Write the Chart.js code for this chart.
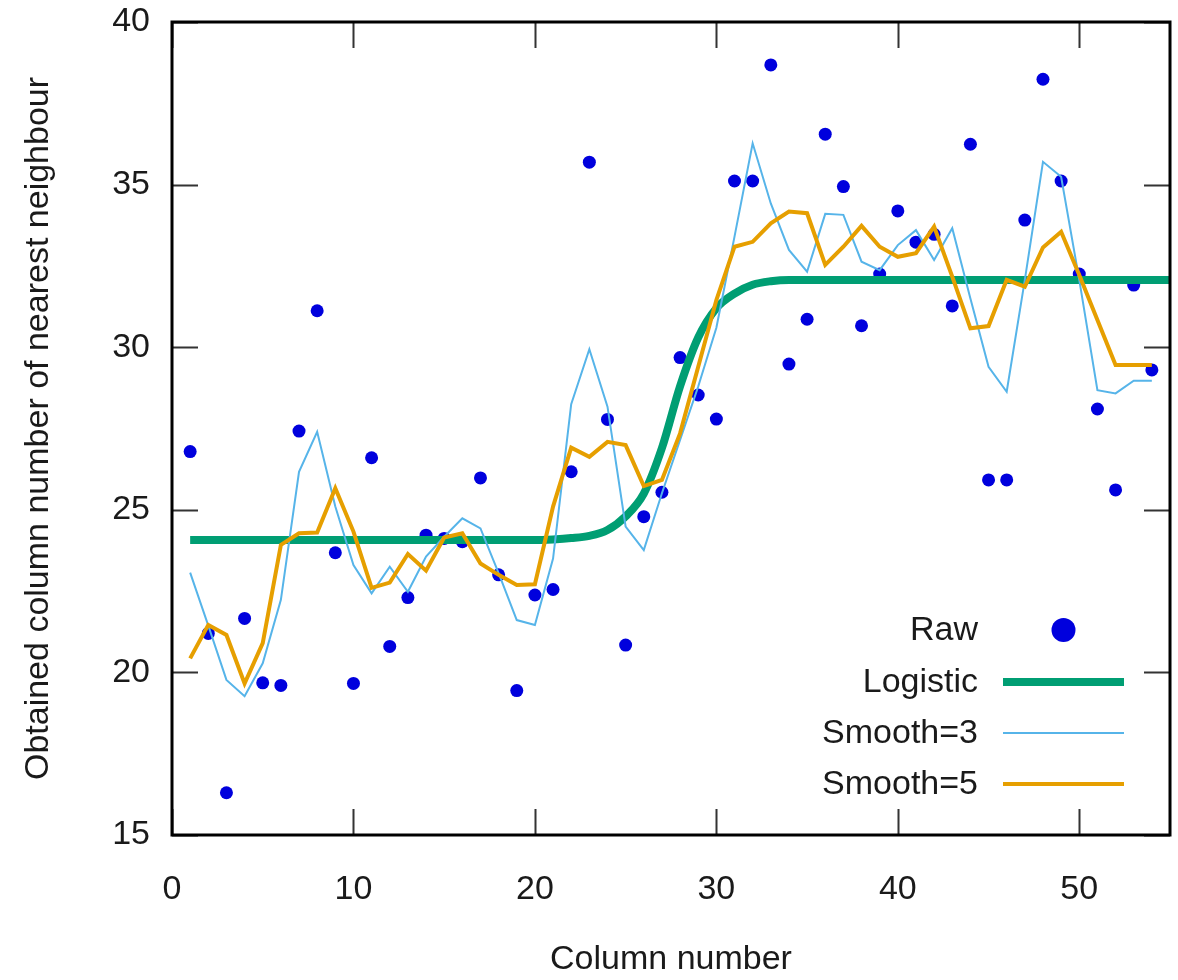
<!DOCTYPE html>
<html>
<head>
<meta charset="utf-8">
<script src="https://cdn.jsdelivr.net/npm/chart.js@4"></script>
<style>
  html, body { margin: 0; padding: 0; background: #fff; }
  #wrap { width: 1178px; height: 980px; }
</style>
</head>
<body>
<div id="wrap"><canvas id="nnChart" width="1178" height="980"></canvas></div>
<script>
// column numbers 1..54
const columns = [1, 2, 3, 4, 5, 6, 7, 8, 9, 10, 11, 12, 13, 14, 15, 16, 17, 18,
  19, 20, 21, 22, 23, 24, 25, 26, 27, 28, 29, 30, 31, 32, 33, 34, 35, 36, 37,
  38, 39, 40, 41, 42, 43, 44, 45, 46, 47, 48, 49, 50, 51, 52, 53, 54];

const raw = [26.79, 21.2, 16.3, 21.66, 19.68, 19.6, 27.42, 31.12, 23.68, 19.66,
  26.6, 20.8, 22.3, 24.22, 24.12, 24.02, 25.98, 23.0, 19.44, 22.38,
  22.55, 26.17, 35.69, 27.78, 20.84, 24.79, 25.54, 29.68, 28.53, 27.79,
  35.11, 35.11, 38.68, 29.48, 30.86, 36.55, 34.94, 30.66, 32.25, 34.19,
  33.23, 33.47, 31.27, 36.24, 25.92, 25.92, 33.91, 38.24, 35.11, 32.25,
  28.1, 25.61, 31.91, 29.3];

const smooth3 = [23.07, 21.44, 19.77, 19.27, 20.28, 22.23, 26.17, 27.4, 25.1, 23.3,
  22.43, 23.25, 22.48, 23.56, 24.17, 24.74, 24.43, 23.05, 21.61, 21.46,
  23.5, 28.25, 29.94, 28.17, 24.48, 23.76, 25.51, 27.15, 28.79, 30.6,
  33.4, 36.27, 34.42, 32.99, 32.32, 34.1, 34.07, 32.63, 32.37, 33.14,
  33.6, 32.68, 33.66, 31.5, 29.4, 28.63, 32.07, 35.7, 35.24, 32.07,
  28.68, 28.58, 28.97, 28.97];

const smooth5 = [20.43, 21.46, 21.15, 19.66, 20.9, 23.92, 24.28, 24.3, 25.66, 24.33,
  22.6, 22.76, 23.64, 23.13, 24.15, 24.28, 23.35, 23.0, 22.69, 22.71,
  25.1, 26.91, 26.63, 27.09, 26.99, 25.73, 25.92, 27.35, 29.4, 31.45,
  33.09, 33.24, 33.81, 34.17, 34.12, 32.53, 33.09, 33.73, 33.09, 32.78,
  32.89, 33.71, 32.17, 30.58, 30.65, 32.07, 31.86, 33.07, 33.55, 32.22,
  30.84, 29.45, 29.45, 29.45];

// logistic fit
const logisticCols = [1, 20, 21, 22, 23, 24, 25, 26, 27, 28, 29, 30, 31, 32, 33, 34, 55];
const logisticVals = [24.07, 24.07, 24.09, 24.13, 24.2, 24.38, 24.8, 25.5, 26.9,
  28.8, 30.3, 31.2, 31.65, 31.92, 32.03, 32.07, 32.07];

const xTicks = [0, 10, 20, 30, 40, 50];
const yTicks = [15, 20, 25, 30, 35, 40];

const FONT = "'Liberation Sans', Arial, sans-serif";
const TEXT = "#1a1a1a";

const pts = (xs, ys) => xs.map((x, i) => ({ x: x, y: ys[i] }));

// gnuplot-style frame with inward ticks on all four sides
const framePlugin = {
  id: "frame",
  afterDatasetsDraw(chart) {
    const { ctx, chartArea: a, scales } = chart;
    const tl = 26;
    ctx.save();
    ctx.strokeStyle = "#333";
    ctx.lineWidth = 2;
    ctx.beginPath();
    xTicks.forEach((v) => {
      const px = Math.round(scales.x.getPixelForValue(v)) + 0.5;
      ctx.moveTo(px, a.bottom); ctx.lineTo(px, a.bottom - tl);
      ctx.moveTo(px, a.top); ctx.lineTo(px, a.top + tl);
    });
    yTicks.forEach((v) => {
      const py = Math.round(scales.y.getPixelForValue(v)) + 0.5;
      ctx.moveTo(a.left, py); ctx.lineTo(a.left + tl, py);
      ctx.moveTo(a.right, py); ctx.lineTo(a.right - tl, py);
    });
    ctx.stroke();
    ctx.strokeStyle = "#000";
    ctx.lineWidth = 3;
    ctx.strokeRect(a.left, a.top, a.right - a.left, a.bottom - a.top);
    ctx.restore();
  },
};

// key in the lower right, text right-aligned with samples after it
const keyPlugin = {
  id: "key",
  afterDraw(chart) {
    const { ctx } = chart;
    const ds = chart.data.datasets;
    const textRight = 978, x0 = 1003, x1 = 1124;
    const rows = [630, 682, 733, 784];
    ctx.save();
    ctx.font = "34px " + FONT;
    ctx.textAlign = "right";
    ctx.textBaseline = "middle";
    ds.forEach((d, i) => {
      const y = rows[i];
      ctx.fillStyle = TEXT;
      ctx.fillText(d.label, textRight, y + 1);
      if (d.showLine === false) {
        ctx.fillStyle = d.pointBackgroundColor;
        ctx.beginPath();
        ctx.arc((x0 + x1) / 2, y, 12, 0, Math.PI * 2);
        ctx.fill();
      } else {
        ctx.strokeStyle = d.borderColor;
        ctx.lineWidth = d.borderWidth;
        ctx.beginPath();
        ctx.moveTo(x0, y); ctx.lineTo(x1, y);
        ctx.stroke();
      }
    });
    ctx.restore();
  },
};

const ctx = document.getElementById("nnChart").getContext("2d");

const nnChart = new Chart(ctx, {
  type: "scatter",
  data: {
    datasets: [
      {
        label: "Raw",
        data: pts(columns, raw),
        showLine: false,
        pointRadius: 6.5,
        pointBackgroundColor: "#0000dd",
        pointBorderWidth: 0,
        order: 4,
      },
      {
        label: "Logistic",
        data: pts(logisticCols, logisticVals),
        showLine: true,
        borderColor: "#009e73",
        borderWidth: 8,
        pointRadius: 0,
        cubicInterpolationMode: "monotone",
        order: 3,
      },
      {
        label: "Smooth=3",
        data: pts(columns, smooth3),
        showLine: true,
        borderColor: "#56b4e9",
        borderWidth: 2,
        pointRadius: 0,
        order: 2,
      },
      {
        label: "Smooth=5",
        data: pts(columns, smooth5),
        showLine: true,
        borderColor: "#e69f00",
        borderWidth: 4,
        pointRadius: 0,
        order: 1,
      },
    ],
  },
  options: {
    responsive: false,
    animation: false,
    layout: { padding: { top: 22, right: 8, left: 0, bottom: 0 } },
    plugins: {
      legend: { display: false },
      tooltip: { enabled: false },
    },
    scales: {
      x: {
        type: "linear",
        min: 0,
        max: 55,
        afterFit: (s) => { s.height = 145; s.paddingLeft = 0; s.paddingRight = 0; },
        afterBuildTicks: (s) => { s.ticks = xTicks.map((v) => ({ value: v })); },
        grid: { display: false, drawTicks: false },
        border: { display: false },
        ticks: { padding: 34, color: TEXT, font: { family: FONT, size: 34 } },
        title: {
          display: true,
          text: "Column number",
          color: TEXT,
          font: { family: FONT, size: 34 },
          padding: { top: 0, bottom: 0 },
        },
      },
      y: {
        type: "linear",
        min: 15,
        max: 40,
        afterFit: (s) => { s.width = 172; s.paddingTop = 0; s.paddingBottom = 0; },
        afterBuildTicks: (s) => { s.ticks = yTicks.map((v) => ({ value: v })); },
        grid: { display: false, drawTicks: false },
        border: { display: false },
        ticks: { padding: 22, color: TEXT, font: { family: FONT, size: 34 } },
        title: {
          display: true,
          text: "Obtained column number of nearest neighbour",
          color: TEXT,
          font: { family: FONT, size: 34 },
          padding: { top: 18, bottom: 0 },
        },
      },
    },
  },
  plugins: [framePlugin, keyPlugin],
});
</script>
</body>
</html>
